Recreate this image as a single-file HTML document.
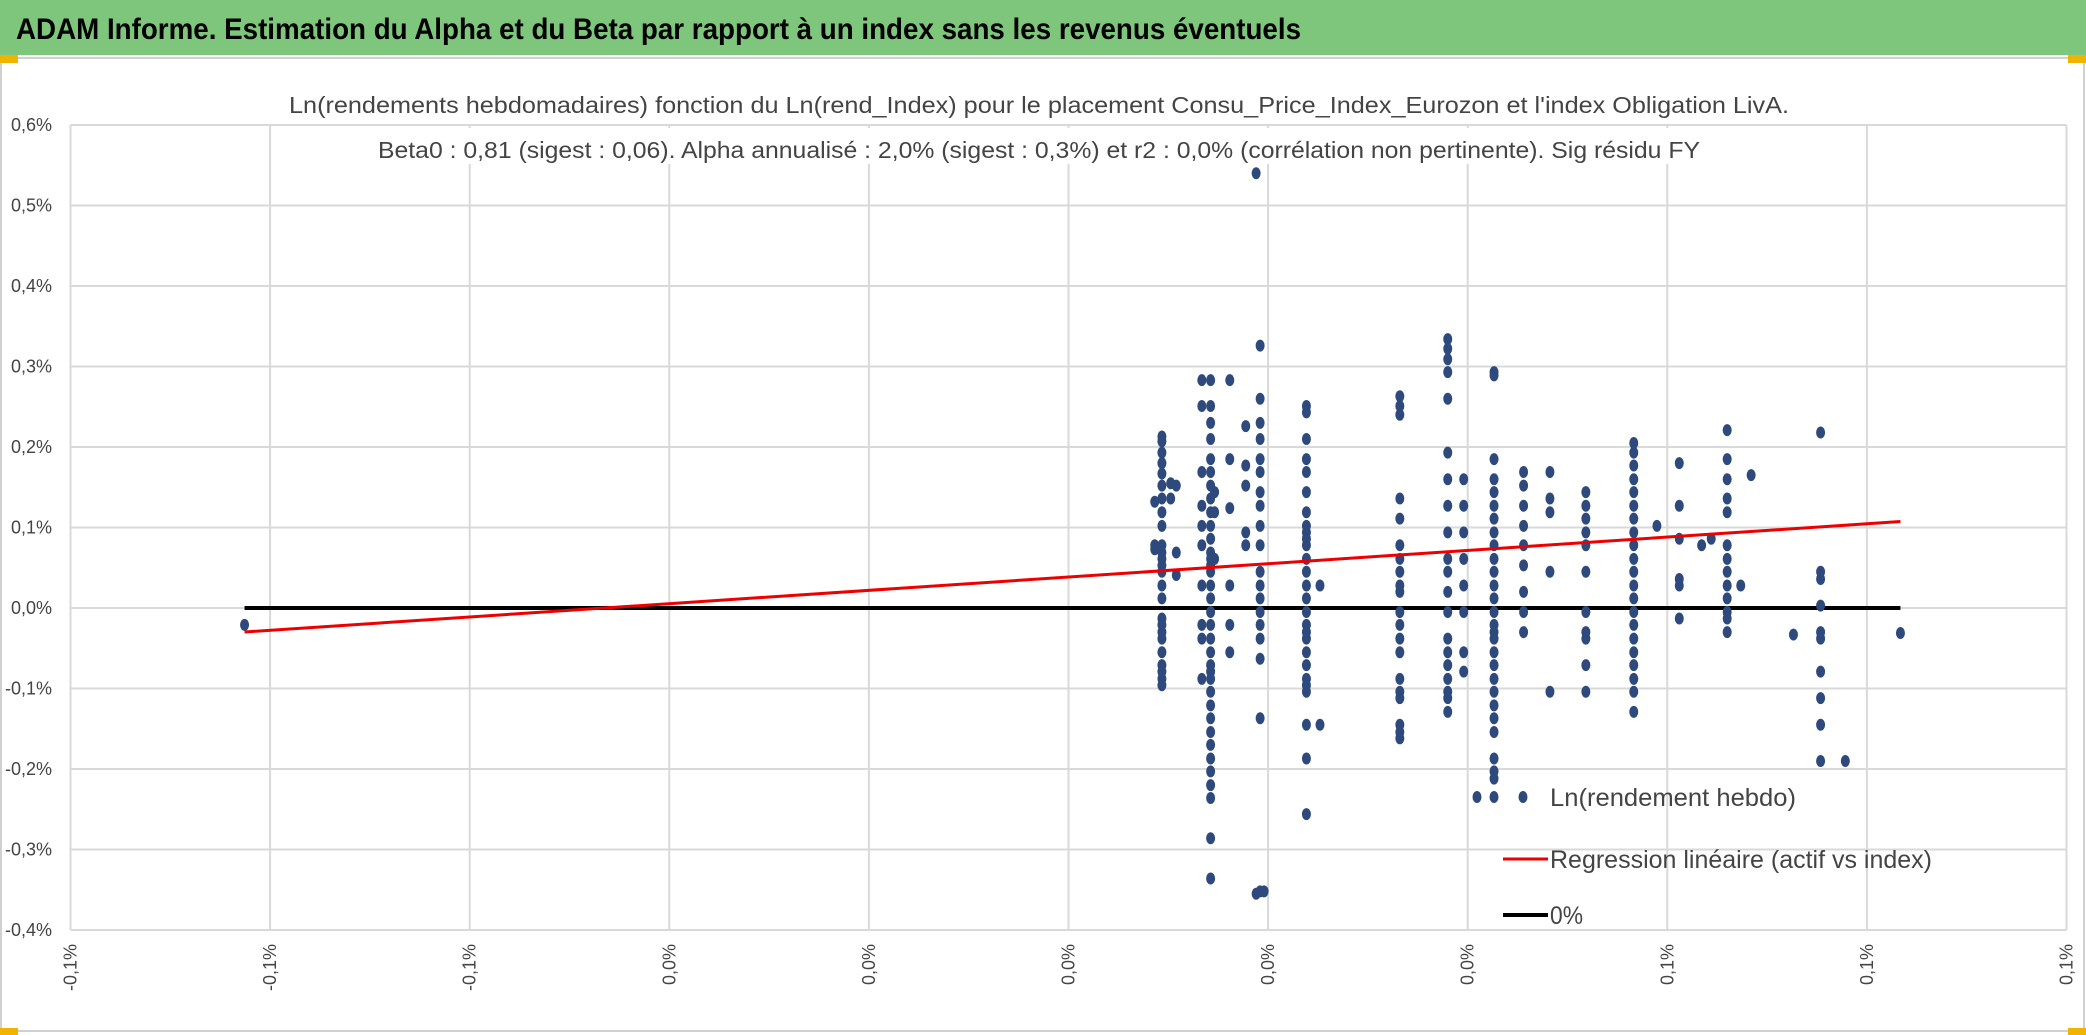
<!DOCTYPE html>
<html><head><meta charset="utf-8"><style>
html,body{margin:0;padding:0;background:#fff;width:2086px;height:1035px;overflow:hidden}
svg{display:block;font-family:"Liberation Sans",sans-serif}
</style></head><body>
<svg id="chart" width="2086" height="1035" viewBox="0 0 2086 1035">
<rect x="0" y="0" width="2086" height="55" fill="#7dc67b"/>
<text x="16" y="39" font-size="30" font-weight="bold" fill="#000" textLength="1285" lengthAdjust="spacingAndGlyphs">ADAM Informe. Estimation du Alpha et du Beta par rapport à un index sans les revenus éventuels</text>
<rect x="1" y="58" width="2083" height="973" fill="none" stroke="#d0d0d0" stroke-width="2"/>
<rect x="0" y="55" width="18" height="8" fill="#f0b400"/>
<rect x="2068" y="55" width="18" height="8" fill="#f0b400"/>
<rect x="0" y="1028" width="18" height="7" fill="#f0b400"/>
<rect x="2068" y="1028" width="18" height="7" fill="#f0b400"/>
<g id="grid"></g>
<g id="marks"></g>
<rect x="280" y="82" width="1520" height="36" fill="#fff"/>
<rect x="370" y="128" width="1340" height="36" fill="#fff"/>
<text x="289" y="113" font-size="23" fill="#444" textLength="1500" lengthAdjust="spacingAndGlyphs">Ln(rendements hebdomadaires) fonction du Ln(rend_Index) pour le placement Consu_Price_Index_Eurozon et l'index Obligation LivA.</text>
<text x="378" y="158" font-size="23" fill="#444" textLength="1322" lengthAdjust="spacingAndGlyphs">Beta0 : 0,81 (sigest : 0,06). Alpha annualisé : 2,0% (sigest : 0,3%) et r2 : 0,0% (corrélation non pertinente). Sig résidu FY</text>
<g>
<ellipse cx="1477" cy="797" rx="4.5" ry="6" fill="#2e4a7d"/><ellipse cx="1494" cy="797" rx="4.5" ry="6" fill="#2e4a7d"/><ellipse cx="1523" cy="797" rx="4.5" ry="6" fill="#2e4a7d"/>
<text x="1550" y="806" font-size="25" fill="#444" textLength="246" lengthAdjust="spacingAndGlyphs">Ln(rendement hebdo)</text>
<line x1="1503" y1="859" x2="1548" y2="859" stroke="#e00" stroke-width="3"/>
<text x="1550" y="868" font-size="25" fill="#444" textLength="382" lengthAdjust="spacingAndGlyphs">Regression linéaire (actif vs index)</text>
<line x1="1503" y1="915" x2="1548" y2="915" stroke="#000" stroke-width="4"/>
<text x="1550" y="924" font-size="25" fill="#444" textLength="33" lengthAdjust="spacingAndGlyphs">0%</text>
</g>
</svg>
<script>
// values in hundredths of a percent
const xTickLabels = ["-0,1%","-0,1%","-0,1%","0,0%","0,0%","0,0%","0,0%","0,0%","0,1%","0,1%","0,1%"];
const yTickValues = [60,50,40,30,20,10,0,-10,-20,-30,-40];
const yTickLabels = ["0,6%","0,5%","0,4%","0,3%","0,2%","0,1%","0,0%","-0,1%","-0,2%","-0,3%","-0,4%"];
const colX = [1.17,1.08,1.28,1.35,1.67,1.78,1.83,2.02,2.22,2.35,2.40,2.45,2.98,3.15,4.15,4.75,4.95,5.33,5.70,6.03,6.48,7.08,7.37,7.65,7.93,8.05,8.25,8.42,8.55,9.08,9.42,9.73,10.42,-10.32];
const colY = [
 [21.3,20.7,19.3,18.0,16.7,15.2,13.6,11.9,10.2,7.8,6.9,6.1,5.3,4.5,2.8,1.2,-1.3,-2.1,-3.0,-3.8,-5.5,-7.1,-7.9,-8.8,-9.6],
 [13.2,7.8,7.3],
 [15.5,13.6],
 [15.2,6.9,4.1],
 [28.3,25.1,16.9,12.7,10.2,7.8,2.8,-2.1,-3.8,-8.8],
 [28.3,25.1,23.0,21.0,18.5,16.9,15.2,13.6,11.9,10.2,8.6,6.9,6.1,5.3,4.5,2.8,1.2,-0.5,-2.1,-3.8,-5.5,-7.1,-7.9,-8.8,-10.4,-12.1,-13.7,-15.4,-17.0,-18.7,-20.3,-22.0,-23.6,-28.6,-33.6],
 [14.4,11.9,6.1],
 [28.3,18.5,12.4,2.8,-2.1,-5.5],
 [22.6,17.7,15.2,9.4,7.8],
 [54.0,-35.5],
 [32.6,26.0,23.0,21.0,18.5,16.9,14.4,12.7,10.2,7.8,4.5,2.8,1.2,-0.5,-2.1,-3.8,-6.3,-13.7,-35.2],
 [-35.2],
 [25.1,24.3,21.0,18.5,16.9,14.4,11.9,10.2,9.4,8.6,7.8,6.1,4.5,2.8,1.2,-0.5,-2.1,-3.0,-3.8,-5.5,-7.1,-8.8,-9.6,-10.4,-14.5,-18.7,-25.6],
 [-14.5,2.8],
 [26.3,25.1,24.0,13.6,11.1,7.8,6.1,4.5,2.8,2.0,-0.5,-2.1,-3.8,-5.5,-8.8,-10.4,-11.2,-14.5,-15.4,-16.2],
 [33.4,32.2,30.9,29.3,26.0,19.3,16.0,12.7,9.4,6.1,4.5,2.0,-0.5,-3.8,-5.5,-7.1,-8.8,-10.4,-11.2,-12.9],
 [16.0,12.7,9.4,6.1,2.8,-0.5,-5.5,-7.9],
 [29.3,28.9,18.5,16.0,14.4,12.7,11.1,9.4,7.8,6.1,4.5,2.8,1.2,-0.5,-2.1,-3.0,-3.8,-5.5,-7.1,-8.8,-10.4,-12.1,-13.7,-15.4,-18.7,-20.3,-21.2],
 [16.9,15.2,12.7,10.2,7.8,5.3,2.0,-0.5,-3.0],
 [16.9,13.6,11.9,4.5,-10.4],
 [14.4,12.7,11.1,9.4,7.8,4.5,-0.5,-3.0,-3.8,-7.1,-10.4],
 [20.5,19.3,17.7,16.0,14.4,12.7,11.1,9.4,7.8,6.1,4.5,2.8,1.2,-0.5,-2.1,-3.8,-5.5,-7.1,-8.8,-10.4,-12.9],
 [10.2],
 [18.0,12.7,8.6,3.6,2.8,-1.3],
 [7.8],
 [8.6],
 [22.1,18.5,16.0,13.6,11.9,7.8,6.1,4.5,2.8,1.2,-0.5,-1.3,-3.0],
 [2.8],
 [16.5],
 [-3.3],
 [21.8,4.5,3.6,0.3,-3.0,-3.8,-7.9,-11.2,-14.5,-19.0],
 [-19.0],
 [-3.1],
 [-2.1]
];
const regX = [-10.32, 10.42];
const regY = [-2.98, 10.74];
const zeroX = [-10.32, 10.42];
const zeroY = [0, 0];

const NS = "http://www.w3.org/2000/svg";
const L = 70.5, R = 2066.5, T = 125, B = 930;
const xMin = -12.5, xMax = 12.5, yMin = -40, yMax = 60;
function sx(v){return L + (v - xMin) / (xMax - xMin) * (R - L);}
function sy(v){return B - (v - yMin) / (yMax - yMin) * (B - T);}
function mk(tag, attrs){const e=document.createElementNS(NS,tag);for(const k in attrs)e.setAttribute(k,attrs[k]);return e;}
const grid = document.getElementById('grid');
const marks = document.getElementById('marks');
xTickLabels.forEach((lab,i)=>{
  const v = xMin + i * (xMax - xMin) / (xTickLabels.length - 1);
  const x = sx(v);
  const gl = mk('line',{x1:x,y1:T,x2:x,y2:B,stroke:'#d9d9d9','stroke-width':2});
  
  
  grid.appendChild(gl);
  const t = mk('text',{x:0,y:0,'font-size':18,fill:'#444','text-anchor':'end',transform:`translate(${x+6},${B+14}) rotate(-90)`});
  t.textContent = lab;
  
  
  grid.appendChild(t);
});
yTickValues.forEach((v,i)=>{
  const y = sy(v);
  const gl = mk('line',{x1:L,y1:y,x2:R,y2:y,stroke:'#d9d9d9','stroke-width':2});
  
  
  grid.appendChild(gl);
  const t = mk('text',{x:52,y:y+6,'font-size':18,fill:'#444','text-anchor':'end'});
  t.textContent = yTickLabels[i];
  
  
  grid.appendChild(t);
});
const zl = mk('line',{x1:sx(zeroX[0]),y1:sy(zeroY[0]),x2:sx(zeroX[1]),y2:sy(zeroY[1]),stroke:'#000','stroke-width':4});


marks.appendChild(zl);
colX.forEach((cx,i)=>{
  colY[i].forEach(v=>{
    const p = mk('ellipse',{cx:sx(cx),cy:sy(v),rx:4.5,ry:6,fill:'#2e4a7d'});
    
    
    marks.appendChild(p);
  });
});
const rl = mk('line',{x1:sx(regX[0]),y1:sy(regY[0]),x2:sx(regX[1]),y2:sy(regY[1]),stroke:'#e00','stroke-width':3});


marks.appendChild(rl);
</script>
</body></html>
